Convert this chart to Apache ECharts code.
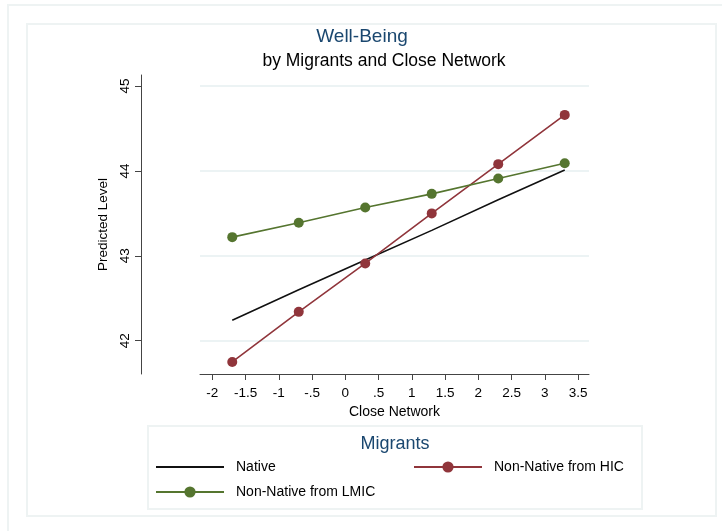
<!DOCTYPE html>
<html>
<head>
<meta charset="utf-8">
<script src="https://cdn.jsdelivr.net/npm/echarts@6/dist/echarts.min.js"></script>
<style>
html,body{margin:0;padding:0;background:#fff;}
#chart{width:722px;height:531px;}
</style>
</head>
<body>
<div id="chart"></div>
<script>
// ---- data ----
const closeNetwork = [-1.7, -0.7, 0.3, 1.3, 2.3, 3.3];
const nativeVals = [42.24, 42.60, 42.95, 43.30, 43.66, 44.01];
const hicVals = [41.75, 42.34, 42.91, 43.50, 44.08, 44.66];
const lmicVals = [43.22, 43.39, 43.57, 43.73, 43.91, 44.09];
const xTicks = [-2, -1.5, -1, -0.5, 0, 0.5, 1, 1.5, 2, 2.5, 3, 3.5];
const yTicks = [42, 43, 44, 45];
const seriesNames = ['Native', 'Non-Native from HIC', 'Non-Native from LMIC'];

const FONT = '"Liberation Sans", Arial, sans-serif';
const NAVY = '#1a476f';
const RED = '#90353b';
const GREEN = '#55752f';
const GRID = '#e6eff1';
const FRAME = '#eef3f3';

const pair = (xs, ys) => xs.map((x, i) => [x, ys[i]]);
const fmtX = v => {
  if (v === 0) return '0';
  const a = Math.abs(v);
  const s = a < 1 ? String(a).replace(/^0/, '') : String(a);
  return (v < 0 ? '-' : '') + s;
};

const chart = echarts.init(document.getElementById('chart'), null, {renderer: 'canvas'});
const legendText = {fontFamily: FONT, fontSize: 14, color: '#000', padding: [0, 0, 0, 7]};
const legendBase = {padding: 0, itemWidth: 68, itemHeight: 14, textStyle: legendText, selectedMode: false};

chart.setOption({
  animation: false,
  backgroundColor: '#fff',
  grid: {left: 200, top: 75, width: 389, height: 299, containLabel: false},
  xAxis: {
    type: 'value', min: -2.185, max: 3.665,
    name: 'Close Network', nameLocation: 'middle', nameGap: 30,
    nameTextStyle: {fontFamily: FONT, fontSize: 14, color: '#000'},
    axisLine: {show: true, onZero: false, lineStyle: {color: '#444', width: 1}},
    axisTick: {show: true, length: 6, lineStyle: {color: '#444'}, customValues: xTicks},
    axisLabel: {fontFamily: FONT, fontSize: 13.5, color: '#000', margin: 12, customValues: xTicks, formatter: fmtX},
    splitLine: {show: false}
  },
  yAxis: {
    type: 'value', min: 41.608, max: 45.13, offset: 59,
    name: 'Predicted Level', nameLocation: 'middle', nameGap: 29, nameRotate: 90,
    nameTextStyle: {fontFamily: FONT, fontSize: 13.5, color: '#000'},
    axisLine: {show: true, onZero: false, lineStyle: {color: '#444', width: 1}},
    axisTick: {show: true, length: 6, lineStyle: {color: '#444', width: 1}, customValues: yTicks},
    axisLabel: {fontFamily: FONT, fontSize: 13.5, color: '#000', margin: 9, rotate: 90, customValues: yTicks},
    splitLine: {show: false}
  },
  legend: [
    Object.assign({data: [{name: seriesNames[0], itemStyle: {opacity: 0}}], left: 155, top: 460}, legendBase),
    Object.assign({data: [seriesNames[1]], left: 413, top: 460}, legendBase),
    Object.assign({data: [seriesNames[2]], left: 155, top: 485}, legendBase)
  ],
  graphic: [
    {type: 'rect', shape: {x: 8, y: 5, width: 760, height: 560}, style: {fill: 'none', stroke: FRAME, lineWidth: 2}, silent: true, z: -10},
    {type: 'rect', shape: {x: 27, y: 24, width: 689, height: 492}, style: {fill: 'none', stroke: FRAME, lineWidth: 2}, silent: true, z: -10},
    {type: 'rect', shape: {x: 148, y: 426, width: 494, height: 83}, style: {fill: 'none', stroke: FRAME, lineWidth: 2}, silent: true, z: -10},
    {type: 'text', x: 362, y: 37, style: {text: 'Well-Being', fontFamily: FONT, fontSize: 19, fill: NAVY, textAlign: 'center', textVerticalAlign: 'middle'}},
    {type: 'text', x: 384, y: 61, style: {text: 'by Migrants and Close Network', fontFamily: FONT, fontSize: 17.5, fill: '#000', textAlign: 'center', textVerticalAlign: 'middle'}},
    {type: 'text', x: 395, y: 444, style: {text: 'Migrants', fontFamily: FONT, fontSize: 18, fill: NAVY, textAlign: 'center', textVerticalAlign: 'middle'}}
  ],
  series: [
    {
      name: 'gridlines', type: 'line', data: [], z: 0, silent: true,
      markLine: {silent: true, z: 0, symbol: 'none', label: {show: false},
        lineStyle: {color: GRID, type: 'solid', width: 1.5},
        data: yTicks.map(v => ({yAxis: v}))}
    },
    {name: seriesNames[0], type: 'line', data: pair(closeNetwork, nativeVals), symbol: 'none', showSymbol: false,
      lineStyle: {color: '#111', width: 1.6}, itemStyle: {color: '#111'}, z: 3},
    {name: seriesNames[1], type: 'line', data: pair(closeNetwork, hicVals), symbol: 'circle', symbolSize: 10,
      lineStyle: {color: RED, width: 1.6}, itemStyle: {color: RED}, z: 4},
    {name: seriesNames[2], type: 'line', data: pair(closeNetwork, lmicVals), symbol: 'circle', symbolSize: 10,
      lineStyle: {color: GREEN, width: 1.6}, itemStyle: {color: GREEN}, z: 5}
  ]
});
</script>
</body>
</html>
